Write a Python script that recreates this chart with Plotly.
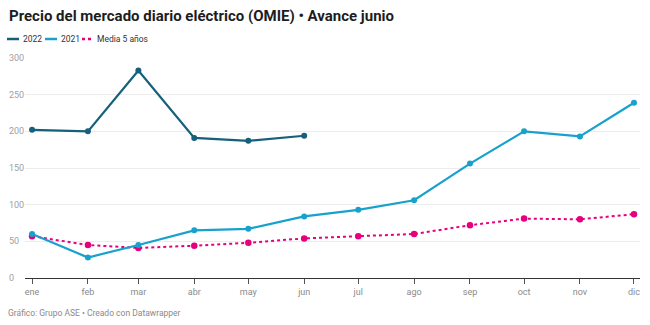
import plotly.graph_objects as go

# Monthly OMIE day-ahead prices (€/MWh)
months = ["ene", "feb", "mar", "abr", "may", "jun", "jul", "ago", "sep", "oct", "nov", "dic"]
dates = [f"2021-{m:02d}-01" for m in range(1, 13)]

precio_2022 = [202, 200, 283, 191, 187, 194]
precio_2021 = [60, 28, 45, 65, 67, 84, 93, 106, 156, 200, 193, 239]
media_5 = [57, 45, 41, 44, 48, 54, 57, 60, 72, 81, 80, 87]

y_ticks = [0, 50, 100, 150, 200, 250, 300]

C2022 = "#15607a"
C2021 = "#18a1cd"
CMED = "#e6007e"
FONT = "Roboto"

W, H = 650, 325
L, R, T, B = 25, 10, 58, 47
PW, PH = W - L - R, H - T - B


def px(x):
    return (x - L) / PW


def py(y):
    return (H - B - y) / PH


fig = go.Figure()
fig.add_trace(go.Scatter(
    x=dates, y=media_5, name="Media 5 años", mode="lines+markers",
    line=dict(color=CMED, width=2, dash="dot"),
    marker=dict(color=CMED, size=6.5)))
fig.add_trace(go.Scatter(
    x=dates, y=precio_2021, name="2021", mode="lines+markers",
    line=dict(color=C2021, width=2.2),
    marker=dict(color=C2021, size=6)))
fig.add_trace(go.Scatter(
    x=dates[:len(precio_2022)], y=precio_2022, name="2022", mode="lines+markers",
    line=dict(color=C2022, width=2.2),
    marker=dict(color=C2022, size=6)))

annotations = []
# y-axis labels, left aligned at the chart edge
for v in y_ticks:
    annotations.append(dict(
        x=0, xref="paper", y=v, yref="y", xshift=-18, xanchor="left", yanchor="middle",
        text=str(v), showarrow=False, font=dict(family=FONT, size=9, color="#a0a0a0")))

# title
annotations.append(dict(
    x=px(7), xref="paper", y=py(16), yref="paper", xanchor="left", yanchor="middle",
    text="<b>Precio del mercado diario eléctrico (OMIE) • Avance junio</b>",
    showarrow=False, font=dict(family=FONT, size=15, color="#1d1d1d")))

# footer
annotations.append(dict(
    x=px(6), xref="paper", y=py(313), yref="paper", xanchor="left", yanchor="middle",
    text="Gráfico: Grupo ASE • Creado con Datawrapper",
    showarrow=False, font=dict(family=FONT, size=8.5, color="#8a8a8a")))

# legend (hand-built, compact swatches)
shapes = []
legend_y = 39
legend_items = [
    ("2022", C2022, "solid", 7, 19, 21),
    ("2021", C2021, "solid", 45, 57, 59),
    ("Media 5 años", CMED, "dot", 82, 91, 95),
]
for label, col, dash, x0, x1, tx in legend_items:
    shapes.append(dict(
        type="line", xref="paper", yref="paper",
        x0=px(x0), x1=px(x1), y0=py(legend_y), y1=py(legend_y),
        line=dict(color=col, width=2.5, dash=dash)))
    annotations.append(dict(
        x=px(tx), xref="paper", y=py(legend_y), yref="paper", xanchor="left", yanchor="middle",
        text=label, showarrow=False, font=dict(family=FONT, size=8.5, color="#333333")))

fig.update_layout(
    width=W, height=H,
    margin=dict(l=L, r=R, t=T, b=B),
    paper_bgcolor="white", plot_bgcolor="white",
    showlegend=False,
    font=dict(family=FONT),
    xaxis=dict(
        type="date",
        range=["2020-12-28 02:00", "2021-12-04 08:00"],
        tickvals=dates, ticktext=months,
        showgrid=False, zeroline=False,
        showline=True, linecolor="#333333", linewidth=1,
        ticks="outside", ticklen=5, tickcolor="#555555", tickwidth=1,
        ticklabelstandoff=0,
        tickfont=dict(family=FONT, size=9, color="#8a8a8a"),
    ),
    yaxis=dict(
        range=[0, 300], tickvals=y_ticks, showticklabels=False,
        showgrid=True, gridcolor="#ececec", gridwidth=1,
        zeroline=False, fixedrange=True,
    ),
    annotations=annotations,
    shapes=shapes,
)

fig.write_html("out.html")
